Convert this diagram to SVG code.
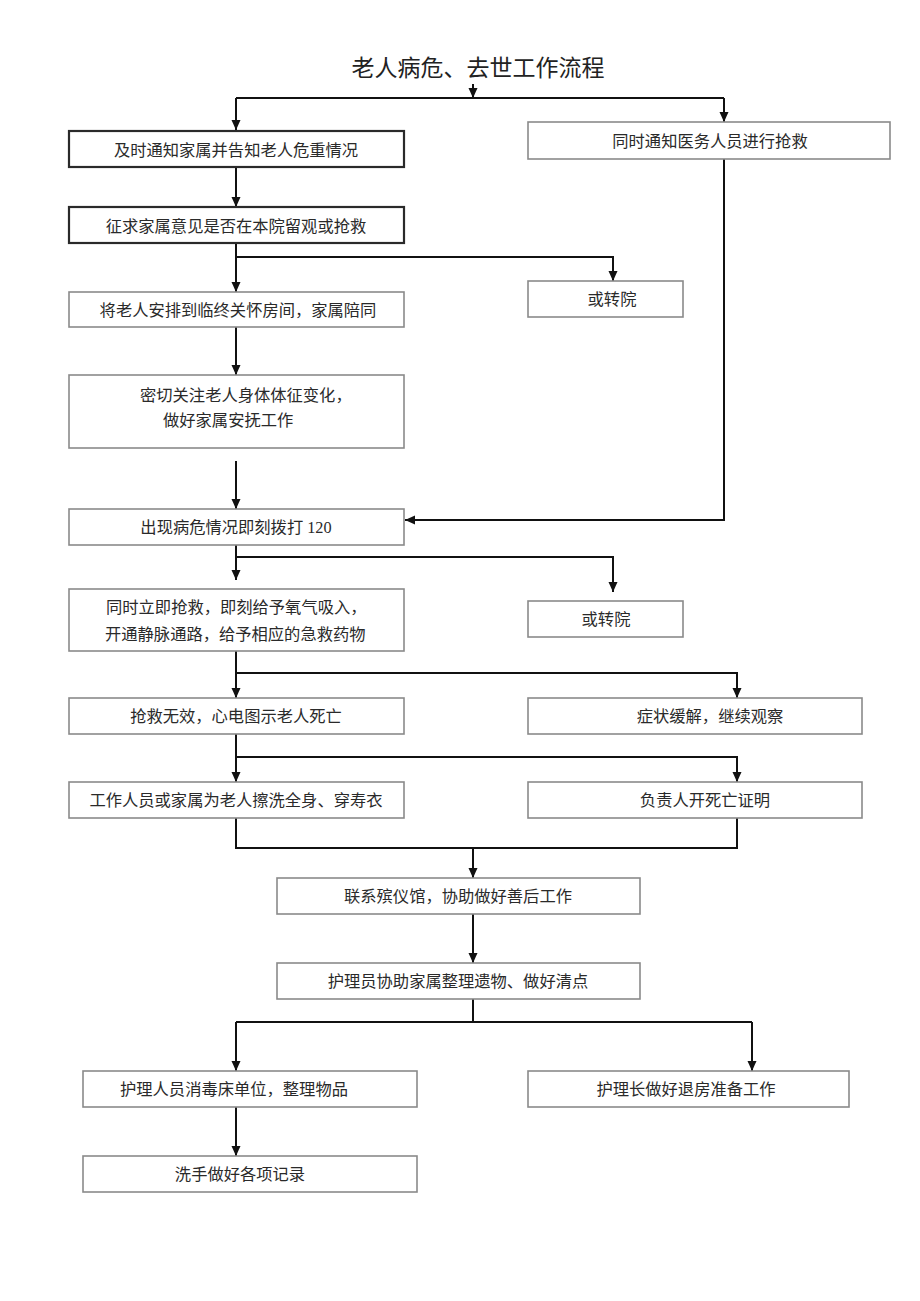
<svg xmlns="http://www.w3.org/2000/svg" width="920" height="1301" viewBox="0 0 920 1301">
<defs>
<marker id="ah" markerUnits="userSpaceOnUse" markerWidth="10" markerHeight="12" refX="10" refY="5" orient="auto">
<path d="M0,0.5 L10,5 L0,9.5 z" fill="#111"/>
</marker>
<style>
.b{fill:#fff;stroke:#8a8a8a;stroke-width:1.6}
.bt{fill:#fff;stroke:#2a2a2a;stroke-width:2.2}
.t{font-family:"Liberation Serif","Noto Sans CJK SC",serif;font-size:16.3px;fill:#2a2a2a;text-anchor:middle;dominant-baseline:central}
.tl{font-family:"Liberation Serif","Noto Sans CJK SC",serif;font-size:16.3px;fill:#2a2a2a;dominant-baseline:central}
.c{fill:none;stroke:#111;stroke-width:2}
.ca{fill:none;stroke:#111;stroke-width:2;marker-end:url(#ah)}
</style>
</defs>
<rect width="920" height="1301" fill="#fff"/>
<text x="478" y="68" style="font-family:'Liberation Serif','Noto Sans CJK SC',serif;font-size:23px;fill:#222;text-anchor:middle;dominant-baseline:central">老人病危、去世工作流程</text>

<g id="connectors">
<path class="ca" d="M473,84 L473,98"/>
<path class="c" d="M236,98 L724,98"/>
<path class="ca" d="M236,98 L236,130"/>
<path class="ca" d="M724,98 L724,122"/>
<path class="ca" d="M236,167 L236,207"/>
<path class="ca" d="M236,243 L236,292"/>
<path class="ca" d="M236,257 L613,257 L613,281"/>
<path class="ca" d="M236,327 L236,375"/>
<path class="ca" d="M236,461 L236,509"/>
<path class="ca" d="M724,159 L724,520 L405,520"/>
<path class="ca" d="M236,545 L236,580"/>
<path class="ca" d="M236,557 L613,557 L613,592"/>
<path class="ca" d="M236,651 L236,698"/>
<path class="ca" d="M236,673 L737,673 L737,698"/>
<path class="ca" d="M236,734 L236,782"/>
<path class="ca" d="M236,757 L737,757 L737,782"/>
<path class="c" d="M236,818 L236,848 L737,848 L737,818"/>
<path class="ca" d="M473,848 L473,878"/>
<path class="ca" d="M473,914 L473,963"/>
<path class="c" d="M473,999 L473,1022"/>
<path class="c" d="M236,1022 L752,1022"/>
<path class="ca" d="M236,1022 L236,1071"/>
<path class="ca" d="M752,1022 L752,1071"/>
<path class="ca" d="M236,1107 L236,1156"/>
</g>

<g id="n1"><rect class="bt" x="69" y="131" width="335" height="36"/><text class="t" x="236" y="150">及时通知家属并告知老人危重情况</text></g>
<g id="n2"><rect class="b" x="528" y="122" width="362" height="37"/><text class="t" x="710" y="141">同时通知医务人员进行抢救</text></g>
<g id="n3"><rect class="bt" x="69" y="207" width="335" height="36"/><text class="t" x="236" y="226">征求家属意见是否在本院留观或抢救</text></g>
<g id="n4"><rect class="b" x="69" y="292" width="335" height="35"/><text class="t" x="238" y="310">将老人安排到临终关怀房间，家属陪同</text></g>
<g id="n5"><rect class="b" x="528" y="281" width="155" height="36"/><text class="t" x="612" y="299">或转院</text></g>
<g id="n6"><rect class="b" x="69" y="375" width="335" height="73"/><text class="tl" x="140" y="395">密切关注老人身体体征变化，</text><text class="tl" x="163" y="420">做好家属安抚工作</text></g>
<g id="n7"><rect class="b" x="69" y="509" width="335" height="36"/><text class="t" x="236" y="527">出现病危情况即刻拨打 120</text></g>
<g id="n8"><rect class="b" x="69" y="589" width="335" height="62"/><text class="tl" x="106" y="607">同时立即抢救，即刻给予氧气吸入，</text><text class="tl" x="105" y="634">开通静脉通路，给予相应的急救药物</text></g>
<g id="n9"><rect class="b" x="528" y="601" width="155" height="36"/><text class="t" x="606" y="619">或转院</text></g>
<g id="n10"><rect class="b" x="69" y="698" width="335" height="36"/><text class="t" x="236" y="716">抢救无效，心电图示老人死亡</text></g>
<g id="n11"><rect class="b" x="528" y="698" width="334" height="36"/><text class="t" x="710" y="716">症状缓解，继续观察</text></g>
<g id="n12"><rect class="b" x="69" y="782" width="335" height="36"/><text class="t" x="236" y="800">工作人员或家属为老人擦洗全身、穿寿衣</text></g>
<g id="n13"><rect class="b" x="528" y="782" width="334" height="36"/><text class="t" x="705" y="800">负责人开死亡证明</text></g>
<g id="n14"><rect class="b" x="277" y="878" width="363" height="36"/><text class="t" x="458" y="896">联系殡仪馆，协助做好善后工作</text></g>
<g id="n15"><rect class="b" x="277" y="963" width="363" height="36"/><text class="t" x="458" y="981">护理员协助家属整理遗物、做好清点</text></g>
<g id="n16"><rect class="b" x="83" y="1071" width="334" height="36"/><text class="t" x="234" y="1089">护理人员消毒床单位，整理物品</text></g>
<g id="n17"><rect class="b" x="528" y="1071" width="321" height="36"/><text class="t" x="686" y="1089">护理长做好退房准备工作</text></g>
<g id="n18"><rect class="b" x="83" y="1156" width="334" height="36"/><text class="t" x="240" y="1174">洗手做好各项记录</text></g>
</svg>
